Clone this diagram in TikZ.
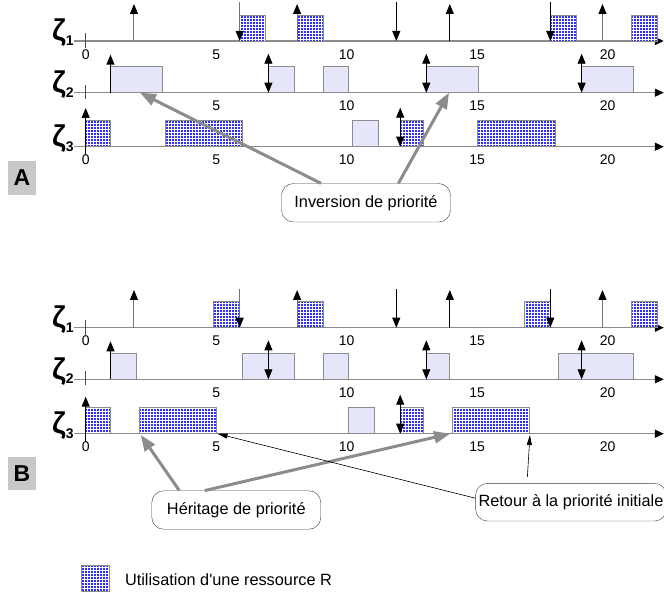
\documentclass[tikz,border=0pt]{standalone}
\usepackage{fontspec}
\setmainfont{Liberation Sans}
\usetikzlibrary{arrows.meta,patterns}

\definecolor{resblue}{RGB}{45,45,255}
\definecolor{joblav}{RGB}{230,230,250}
\definecolor{linegray}{RGB}{140,140,140}
\definecolor{taggray}{RGB}{200,200,200}

\newcommand{\zlab}[1]{\raisebox{4.7pt}{ζ}{\fontsize{14}{14}\selectfont #1}}

\tikzset{
    timeaxis/.style = {draw=linegray, line width=1.5pt, -{Triangle[black,width=8pt,length=9pt]}},
    tickmark/.style = {draw=black!70, line width=0.8pt},
    ticklab/.style = {inner sep=0pt, font=\fontsize{14}{14}\selectfont},
    zeta/.style = {anchor=base east, inner sep=0pt, font=\bfseries\fontsize{30}{30}\selectfont},
    res/.style = {draw=linegray, line width=0.8pt, preaction={fill=resblue}, pattern=grid, pattern color=white},
    job/.style = {draw=linegray, line width=0.8pt, fill=joblav},
    evt/.style = {draw=black!55, line width=1pt, -{Triangle[black,width=8pt,length=10pt]}},
    arrboth/.style = {draw=black, line width=0.8pt, {Triangle[width=8pt,length=10pt]}-{Triangle[width=8pt,length=10pt]}},
    rowtag/.style = {fill=taggray, minimum width=27.4pt, minimum height=34pt, inner sep=0pt, font=\bfseries\fontsize{23}{23}\selectfont},
    callout/.style = {draw=black!75, fill=white, rounded corners=12pt, minimum height=38.5pt, minimum width=169pt, inner sep=0pt, font=\fontsize{16.3}{18}\selectfont},
    hint/.style = {draw=black!45, line width=3pt, -{Triangle[width=12pt,length=16pt]}},
    backarrow/.style = {draw=black, line width=0.6pt, -{Triangle[width=5pt,length=10pt]}}
}

\begin{document}
\begin{tikzpicture}[x=26.1pt, y=1pt]
    \useasboundingbox (-85.7pt,0pt) rectangle (578.3pt,597pt);

    % A
    \node[rowtag] (tagA) at (-2.44,419) {A};

    \begin{scope}[yshift=556pt]
        \draw[timeaxis] (-0.45,0) -- (22.15,0);
        \draw[tickmark] (0,-7) -- (0,8);
        \node[zeta] (zA1) at (-0.45,-4.7) {\zlab{1}};
        \foreach \t in {0,5,10,15,20}
            \node[ticklab] (tA1-\t) at (\t,-13.3) {\t};
        \path[res] (5.9,0) rectangle (6.9,26);
        \path[res] (8.1,0) rectangle (9.1,26);
        \path[res] (17.8,0) rectangle (18.8,26);
        \path[res] (20.9,0) rectangle (21.9,26);
        \draw[evt] (1.85,0) -- (1.85,37);
        \draw[evt] (8.1,0) -- (8.1,37);
        \draw[evt,draw=black] (13.95,0) -- (13.95,37);
        \draw[evt] (19.8,0) -- (19.8,37);
        \draw[evt] (5.9,39) -- (5.9,0);
        \draw[evt,draw=black] (11.9,39) -- (11.9,0);
        \draw[evt,draw=black] (17.8,39) -- (17.8,0);
    \end{scope}

    \begin{scope}[yshift=504.3pt]
        \draw[timeaxis] (-0.45,0) -- (22.15,0);
        \draw[tickmark] (0,-6) -- (0,8);
        \node[zeta] (zA2) at (-0.45,-4.7) {\zlab{2}};
        \foreach \t in {5,10,15,20}
            \node[ticklab] (tA2-\t) at (\t,-13.3) {\t};
        \path[job] (0.95,0) rectangle (2.95,26);
        \path[job] (7,0) rectangle (8,26);
        \path[job] (9.1,0) rectangle (10.05,26);
        \path[job] (13.05,0) rectangle (15.03,26);
        \path[job] (19,0) rectangle (21,26);
        \draw[evt,draw=black] (0.95,0) -- (0.95,38);
        \draw[arrboth] (7,0) -- (7,39);
        \draw[arrboth] (13.05,0) -- (13.05,39);
        \draw[arrboth] (19,0) -- (19,39);
        \coordinate (invL) at (2.08,0);
        \coordinate (invR) at (13.92,0);
    \end{scope}

    \begin{scope}[yshift=450.3pt]
        \draw[timeaxis] (-0.45,0) -- (22.15,0);
        \node[zeta] (zA3) at (-0.45,-4.7) {\zlab{3}};
        \foreach \t in {0,5,10,15,20}
            \node[ticklab] (tA3-\t) at (\t,-13.3) {\t};
        \path[res] (0,0) rectangle (0.95,26);
        \path[res] (3.05,0) rectangle (6,26);
        \path[job] (10.2,0) rectangle (11.2,26);
        \path[res] (12.05,0) rectangle (12.95,26);
        \path[res] (15,0) rectangle (18,26);
        \draw[evt,draw=black] (0,-8) -- (0,38.7);
        \draw[arrboth] (12.05,0) -- (12.05,39);
    \end{scope}

    % B
    \node[rowtag, minimum height=33.3pt] (tagB) at (-2.44,123.7) {B};

    \begin{scope}[yshift=269.3pt]
        \draw[timeaxis] (-0.45,0) -- (22.15,0);
        \draw[tickmark] (0,-7) -- (0,8);
        \node[zeta] (zB1) at (-0.45,-4.7) {\zlab{1}};
        \foreach \t in {0,5,10,15,20}
            \node[ticklab] (tB1-\t) at (\t,-13) {\t};
        \path[res] (4.9,0) rectangle (5.9,26);
        \path[res] (8.1,0) rectangle (9.1,26);
        \path[res] (16.8,0) rectangle (17.8,26);
        \path[res] (20.9,0) rectangle (21.9,26);
        \draw[evt] (1.85,0) -- (1.85,37.7);
        \draw[evt] (8.1,0) -- (8.1,37.7);
        \draw[evt,draw=black] (13.95,0) -- (13.95,37.7);
        \draw[evt] (19.8,0) -- (19.8,37.7);
        \draw[evt] (5.9,39) -- (5.9,0);
        \draw[evt,draw=black] (11.9,39) -- (11.9,0);
        \draw[evt,draw=black] (17.8,39) -- (17.8,0);
    \end{scope}

    \begin{scope}[yshift=217.7pt]
        \draw[timeaxis] (-0.45,0) -- (22.15,0);
        \draw[tickmark] (0,-6) -- (0,8);
        \node[zeta] (zB2) at (-0.45,-4.7) {\zlab{2}};
        \foreach \t in {5,10,15,20}
            \node[ticklab] (tB2-\t) at (\t,-13) {\t};
        \path[job] (0.95,0) rectangle (1.95,26);
        \path[job] (6,0) rectangle (8,26);
        \path[job] (9.1,0) rectangle (10.05,26);
        \path[job] (13.05,0) rectangle (13.95,26);
        \path[job] (18.1,0) rectangle (21,26);
        \draw[evt,draw=black] (0.95,0) -- (0.95,38);
        \draw[arrboth] (7,0) -- (7,39);
        \draw[arrboth] (13.05,0) -- (13.05,39);
        \draw[arrboth] (19,0) -- (19,39);
    \end{scope}

    \begin{scope}[yshift=163.3pt]
        \draw[timeaxis] (-0.45,0) -- (22.15,0);
        \node[zeta] (zB3) at (-0.45,-4.7) {\zlab{3}};
        \foreach \t in {0,5,10,15,20}
            \node[ticklab] (tB3-\t) at (\t,-13.3) {\t};
        \path[res] (0,0) rectangle (0.95,26);
        \path[res] (2.05,0) rectangle (5,26);
        \path[job] (10.05,0) rectangle (11.05,26);
        \path[res] (12.05,0) rectangle (12.95,26);
        \path[res] (14.05,0) rectangle (17,26);
        \draw[evt,draw=black] (0,-8) -- (0,37);
        \draw[arrboth] (12.05,0) -- (12.05,39);
        \coordinate (herL) at (2.11,-1.3);
        \coordinate (herR) at (13.96,0);
        \coordinate (retL) at (5.05,0);
        \coordinate (retR) at (17.02,-1.3);
    \end{scope}

    % callouts
    \node[callout] (inv) at (10.74,394.2) {Inversion de priorité};
    \node[callout] (her) at (5.77,87) {Héritage de priorité};
    \node[callout, anchor=west, minimum width=0pt, minimum height=37.7pt, inner xsep=3pt] (ret) at (14.93,94.8) {Retour à la priorité initiale};

    \draw[hint] ([xshift=-45pt]inv.north) -- (invL);
    \draw[hint] ([xshift=32.4pt]inv.north) -- (invR);
    \draw[hint] ([xshift=-57pt]her.north) -- (herL);
    \draw[hint] ([xshift=-31.5pt]her.north) -- (herR);
    \draw[backarrow] ([yshift=4pt]ret.west) -- (retL);
    \draw[backarrow] ([xshift=52pt,yshift=6pt]ret.north west) -- (retR);

    % legend
    \path[res] (-0.165,5.3) rectangle (0.89,32);
    \node[anchor=west, inner sep=0pt, font=\fontsize{16.3}{18}\selectfont] (legR) at (1.5,17) {Utilisation d\textquotesingle une ressource R};
\end{tikzpicture}
\end{document}
